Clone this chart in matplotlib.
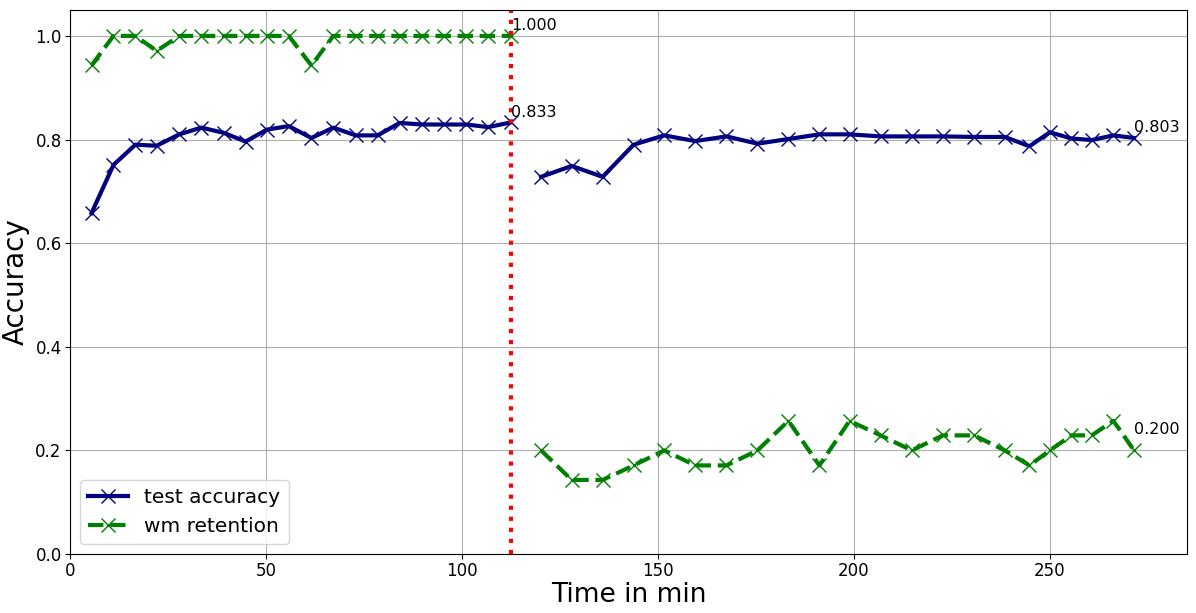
import matplotlib
matplotlib.use("Agg")
import matplotlib.pyplot as plt

# phase 1: before the attack, phase 2: after (fine-tuning)
time1 = [5.5, 11.1, 16.7, 22.1, 27.9, 33.5, 39.2, 44.8, 50.2, 55.8,
         61.6, 67.2, 72.9, 78.5, 84.1, 89.9, 95.5, 101.1, 106.7, 112.5]
acc1 = [0.658, 0.751, 0.790, 0.788, 0.810, 0.823, 0.813, 0.796, 0.819, 0.826,
        0.803, 0.823, 0.808, 0.808, 0.832, 0.829, 0.829, 0.829, 0.824, 0.833]
wm1 = [0.943, 1.0, 1.0, 0.971, 1.0, 1.0, 1.0, 1.0, 1.0, 1.0,
       0.943, 1.0, 1.0, 1.0, 1.0, 1.0, 1.0, 1.0, 1.0, 1.0]

time2 = [120.2, 128.0, 135.9, 143.8, 151.6, 159.5, 167.5, 175.4, 183.3, 191.2, 198.9,
         206.8, 214.8, 222.7, 230.7, 238.5, 244.8, 250.0, 255.5, 260.7, 266.2, 271.5]
acc2 = [0.728, 0.749, 0.728, 0.790, 0.808, 0.797, 0.806, 0.792, 0.801, 0.810, 0.810,
        0.806, 0.806, 0.806, 0.805, 0.805, 0.787, 0.814, 0.802, 0.799, 0.808, 0.803]
wm2 = [0.200, 0.143, 0.143, 0.171, 0.200, 0.171, 0.171, 0.200, 0.257, 0.171, 0.257,
       0.229, 0.200, 0.229, 0.229, 0.200, 0.171, 0.200, 0.229, 0.229, 0.257, 0.200]

attack_time = time1[-1]

fig = plt.figure(figsize=(11.96, 6.13), dpi=100)
ax = fig.add_axes([0.0585, 0.0962, 0.9340, 0.8875])

acc_style = dict(color="navy", linestyle="-", linewidth=3, marker="x",
                 markersize=9.5, markeredgewidth=1)
wm_style = dict(color="green", linestyle="--", linewidth=3, marker="x",
                markersize=9.5, markeredgewidth=1)

ax.plot(time1, acc1, label="test accuracy", **acc_style)
ax.plot(time1, wm1, label="wm retention", **wm_style)
ax.plot(time2, acc2, **acc_style)
ax.plot(time2, wm2, **wm_style)

ax.axvline(attack_time, color="red", linestyle=":", linewidth=3)

# value labels at the end of each phase
ends = [(time1, acc1, 4), (time1, wm1, 4), (time2, acc2, 4), (time2, wm2, 12)]
for t, vals, dy in ends:
    ax.annotate("%.3f" % vals[-1], (t[-1], vals[-1]), xytext=(0, dy),
                textcoords="offset points", fontsize=11.5)

ax.set_xlim(0, 285)
ax.set_ylim(0, 1.05)
ax.grid(True)
ax.tick_params(labelsize=12, pad=2.5)
ax.set_xlabel("Time in min", fontsize=19, labelpad=1)
ax.set_ylabel("Accuracy", fontsize=20)
ax.legend(loc="lower left", fontsize=14.5)

fig.savefig("out.png", dpi=100)
